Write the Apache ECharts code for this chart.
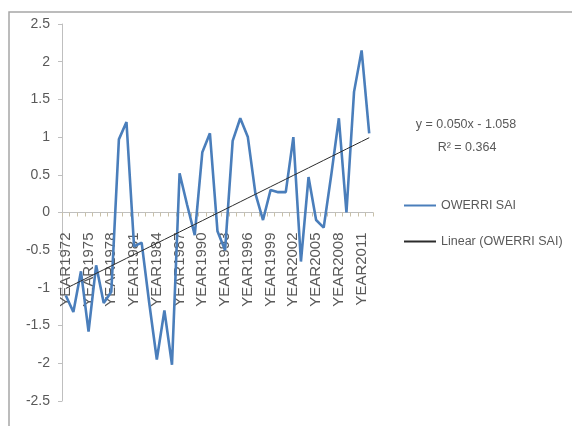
<!DOCTYPE html>
<html>
<head>
<meta charset="utf-8">
<script src="https://cdn.jsdelivr.net/npm/echarts@6/dist/echarts.min.js"></script>
<style>html,body{margin:0;padding:0;background:#fff;}#c{width:572px;height:426px;}</style>
</head>
<body>
<div id="c"></div>
<script>
var years = ['YEAR1972','YEAR1973','YEAR1974','YEAR1975','YEAR1976','YEAR1977','YEAR1978','YEAR1979','YEAR1980','YEAR1981',
  'YEAR1982','YEAR1983','YEAR1984','YEAR1985','YEAR1986','YEAR1987','YEAR1988','YEAR1989','YEAR1990','YEAR1991',
  'YEAR1992','YEAR1993','YEAR1994','YEAR1995','YEAR1996','YEAR1997','YEAR1998','YEAR1999','YEAR2000','YEAR2001',
  'YEAR2002','YEAR2003','YEAR2004','YEAR2005','YEAR2006','YEAR2007','YEAR2008','YEAR2009','YEAR2010','YEAR2011','YEAR2012'];
var sai = [-1.10,-1.32,-0.78,-1.58,-0.70,-1.20,-1.05,0.97,1.20,-0.45,
  -0.40,-1.20,-1.95,-1.30,-2.02,0.52,0.10,-0.30,0.80,1.05,
  -0.25,-0.50,0.95,1.25,1.00,0.25,-0.10,0.30,0.27,0.27,
  1.00,-0.65,0.47,-0.10,-0.20,0.50,1.25,0.00,1.60,2.15,1.05];
var trendSlope = 0.050;
var trendIntercept = -1.058;
var rSquared = 0.364;
var seriesName = 'OWERRI SAI';
var trendName = 'Linear (OWERRI SAI)';
var yMin = -2.5, yMax = 2.5, yStep = 0.5;

var trend = years.map(function(_, i){ return +(trendSlope * (i + 1) + trendIntercept).toFixed(4); });

var gridTop = 24, gridHeight = 377;
var zeroOffset = -gridHeight * (0 - yMin) / (yMax - yMin);

var chart = echarts.init(document.getElementById('c'), null, {renderer:'canvas'});
var font = 'Liberation Sans';
chart.setOption({
  animation: false,
  backgroundColor: '#ffffff',
  grid: {left: 62, top: gridTop, width: 311, height: gridHeight, containLabel: false, outerBoundsMode: 'none'},
  xAxis: {
    type: 'category',
    data: years,
    boundaryGap: true,
    offset: zeroOffset,
    axisLine: {onZero: false, lineStyle: {color: '#bfbfbf', width: 1}},
    axisTick: {show: true, interval: 0, length: 4, lineStyle: {color: '#c8c0a8'}},
    axisLabel: {interval: 2, rotate: 90, margin: 20, color: '#595959', fontFamily: font, fontSize: 15},
    splitLine: {show: false}
  },
  yAxis: {
    type: 'value',
    min: yMin, max: yMax, interval: yStep,
    axisLine: {show: true, lineStyle: {color: '#bfbfbf'}},
    axisTick: {show: true, length: 4, lineStyle: {color: '#bfbfbf'}},
    axisLabel: {margin: 12, color: '#595959', fontFamily: font, fontSize: 14},
    splitLine: {show: false}
  },
  legend: {
    orient: 'vertical',
    left: 398, top: 194,
    itemWidth: 32, itemHeight: 14, itemGap: 23,
    itemStyle: {opacity: 0},
    textStyle: {color: '#595959', fontFamily: font, fontSize: 12.5},
    data: [seriesName, trendName]
  },
  graphic: [
    {type: 'rect', shape: {x: 9, y: 12, width: 620, height: 500}, style: {fill: 'none', stroke: '#a6a6a6', lineWidth: 1.5}, silent: true},
    {type: 'text', x: 466, y: 125, style: {text: 'y = ' + trendSlope.toFixed(3) + 'x - ' + Math.abs(trendIntercept).toFixed(3), fill: '#595959', font: '12.5px "Liberation Sans"', align: 'center', verticalAlign: 'middle'}},
    {type: 'text', x: 467, y: 148, style: {text: 'R² = ' + rSquared.toFixed(3), fill: '#595959', font: '12.5px "Liberation Sans"', align: 'center', verticalAlign: 'middle'}}
  ],
  series: [
    {
      name: seriesName, type: 'line', data: sai, symbol: 'none',
      lineStyle: {color: '#4a7ebb', width: 2.6}, itemStyle: {color: '#4a7ebb'}, z: 3
    },
    {
      name: trendName, type: 'line', data: trend, symbol: 'none',
      lineStyle: {color: '#2b2b2b', width: 1}, itemStyle: {color: '#2b2b2b'}, z: 4
    }
  ]
});
</script>
</body>
</html>
